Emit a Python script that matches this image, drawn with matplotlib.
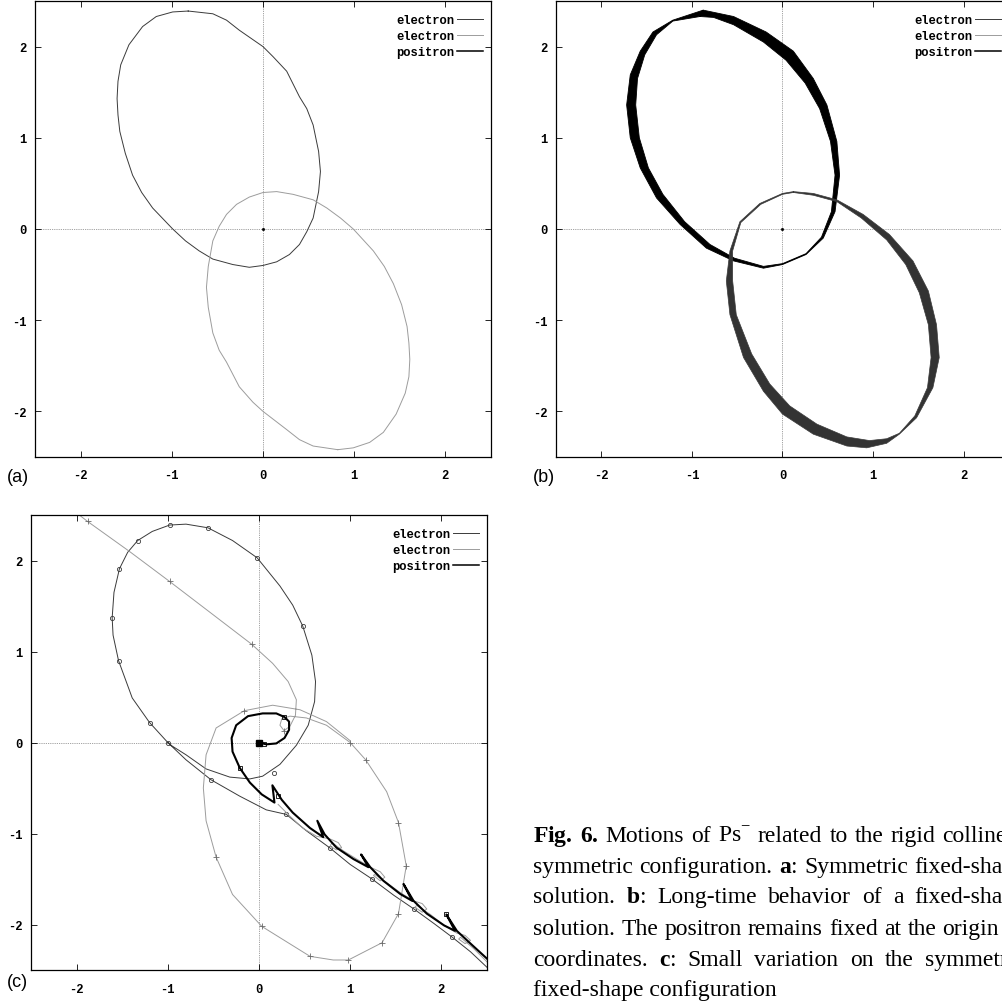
import numpy as np
import matplotlib.pyplot as plt
from matplotlib.lines import Line2D

plt.rcParams['axes.unicode_minus'] = False
plt.rcParams['mathtext.fontset'] = 'custom'
plt.rcParams['mathtext.rm'] = 'Liberation Serif'
plt.rcParams['mathtext.bf'] = 'Liberation Serif:bold'

ticks = [-2, -1, 0, 1, 2]
legend_labels = ['electron', 'electron', 'positron']
panel_labels = ['(a)', '(b)', '(c)']
caption_lines = [
    r'$\mathbf{Fig.\,6.}$ Motions of Ps$^{-}$ related to the rigid collinear',
    r'symmetric configuration. $\mathbf{a}$: Symmetric fixed-shape',
    r'solution. $\mathbf{b}$: Long-time behavior of a fixed-shape',
    r'solution. The positron remains fixed at the origin of',
    r'coordinates. $\mathbf{c}$: Small variation on the symmetric',
    r'fixed-shape configuration',
]

# (a) symmetric fixed-shape solution
e1_a_x = [-0.82, -0.99, -1.17, -1.32, -1.47, -1.56, -1.59, -1.60, -1.59, -1.57, -1.51, -1.43,
          -1.33, -1.21, -0.99, -0.85, -0.70, -0.55, -0.33, -0.15, 0.00, 0.15, 0.29, 0.40, 0.48,
          0.55, 0.61, 0.63, 0.61, 0.55, 0.48, 0.40, 0.26, 0.11, 0.00, -0.26, -0.40, -0.55, -0.82]
e1_a_y = [2.39, 2.38, 2.33, 2.22, 2.02, 1.80, 1.62, 1.43, 1.25, 1.07, 0.83, 0.59,
          0.40, 0.23, 0.00, -0.13, -0.24, -0.33, -0.39, -0.42, -0.40, -0.36, -0.28, -0.17, -0.03,
          0.12, 0.41, 0.63, 0.85, 1.14, 1.32, 1.45, 1.73, 1.89, 2.00, 2.18, 2.29, 2.36, 2.39]
e2_a_x = [0.82, 0.99, 1.17, 1.32, 1.46, 1.56, 1.60, 1.61, 1.60, 1.58, 1.52, 1.43,
          1.33, 1.21, 0.99, 0.85, 0.70, 0.55, 0.33, 0.15, 0.00, -0.15, -0.29, -0.40, -0.48,
          -0.55, -0.60, -0.62, -0.60, -0.55, -0.48, -0.40, -0.26, -0.11, 0.00, 0.26, 0.40, 0.55, 0.82]
e2_a_y = [-2.42, -2.40, -2.34, -2.23, -2.03, -1.80, -1.62, -1.43, -1.25, -1.07, -0.83, -0.60,
          -0.41, -0.24, 0.00, 0.12, 0.23, 0.32, 0.38, 0.41, 0.40, 0.35, 0.27, 0.16, 0.03,
          -0.13, -0.41, -0.64, -0.86, -1.14, -1.33, -1.46, -1.73, -1.90, -2.00, -2.20, -2.31, -2.38, -2.42]
pos_x = [0.0]
pos_y = [0.0]

# (b) long-time behaviour: bands swept by the two electrons
e1_b_out_x = [-0.875, -1.21, -1.43, -1.57, -1.68, -1.72, -1.68, -1.57, -1.39, -1.13, -0.84, -0.54,
              -0.21, 0.00, 0.26, 0.45, 0.58, 0.63, 0.60, 0.49, 0.34, 0.12, -0.18, -0.54, -0.875]
e1_b_out_y = [2.40, 2.29, 2.16, 1.95, 1.69, 1.36, 1.00, 0.67, 0.34, 0.05, -0.21, -0.35,
              -0.43, -0.39, -0.28, -0.10, 0.19, 0.59, 0.96, 1.36, 1.65, 1.95, 2.16, 2.33, 2.40]
e1_b_in_x = [-0.91, -1.21, -1.39, -1.52, -1.60, -1.62, -1.58, -1.48, -1.32, -1.08, -0.80, -0.53,
             -0.21, 0.00, 0.26, 0.43, 0.54, 0.58, 0.53, 0.41, 0.25, 0.04, -0.21, -0.54, -0.76, -0.91]
e1_b_in_y = [2.33, 2.28, 2.13, 1.91, 1.65, 1.36, 1.00, 0.67, 0.38, 0.08, -0.17, -0.32,
             -0.41, -0.38, -0.27, -0.09, 0.19, 0.59, 0.96, 1.32, 1.60, 1.85, 2.05, 2.24, 2.32, 2.33]
e2_b_out_x = [0.12, 0.00, -0.25, -0.47, -0.58, -0.62, -0.58, -0.43, -0.21, 0.00, 0.34, 0.71, 0.93,
              1.15, 1.29, 1.48, 1.66, 1.73, 1.70, 1.61, 1.44, 1.18, 0.89, 0.60, 0.34, 0.12]
e2_b_out_y = [0.41, 0.39, 0.28, 0.08, -0.24, -0.57, -0.94, -1.41, -1.78, -2.03, -2.25, -2.38, -2.40,
              -2.35, -2.25, -2.07, -1.74, -1.41, -1.05, -0.68, -0.35, -0.06, 0.16, 0.32, 0.39, 0.41]
e2_b_in_x = [0.12, 0.00, -0.24, -0.46, -0.55, -0.55, -0.51, -0.34, -0.14, 0.08, 0.38, 0.71, 0.96,
             1.15, 1.29, 1.46, 1.60, 1.64, 1.61, 1.51, 1.36, 1.15, 0.87, 0.60, 0.34, 0.12]
e2_b_in_y = [0.40, 0.38, 0.27, 0.07, -0.24, -0.57, -0.94, -1.37, -1.70, -1.94, -2.14, -2.28, -2.32,
             -2.30, -2.24, -2.05, -1.74, -1.41, -1.05, -0.70, -0.39, -0.12, 0.12, 0.30, 0.37, 0.40]

# (c) small variation on the symmetric configuration
e1_c_x = [2.50, 2.32, 2.12, 1.92, 1.70, 1.48, 1.24, 1.00, 0.78, 0.52, 0.30, 0.08, -0.21, -0.525,
          -0.80, -1.00, -1.20, -1.39, -1.54, -1.60, -1.61, -1.59, -1.53, -1.44, -1.33, -1.17,
          -0.98, -0.80, -0.56, -0.29, -0.02, 0.23, 0.37, 0.48, 0.58, 0.62, 0.61, 0.54, 0.41,
          0.23, 0.04, -0.10, -0.32, -0.58, -0.80, -0.95, -1.00]
e1_c_y = [-2.47, -2.30, -2.14, -1.99, -1.83, -1.68, -1.50, -1.34, -1.16, -0.97, -0.79, -0.74,
          -0.59, -0.41, -0.19, 0.00, 0.22, 0.49, 0.90, 1.18, 1.37, 1.65, 1.91, 2.09, 2.22, 2.32,
          2.39, 2.40, 2.36, 2.22, 2.03, 1.72, 1.51, 1.28, 0.96, 0.67, 0.45, 0.19, -0.03,
          -0.24, -0.37, -0.40, -0.38, -0.29, -0.135, -0.04, 0.00]
e1_c_mark_x = [-0.98, -0.56, -0.02, 0.48, -1.33, -1.53, -1.61, -1.54, -1.20, -1.00, -0.525,
               0.165, 0.30, 0.78, 1.24, 1.70, 2.12]
e1_c_mark_y = [2.39, 2.36, 2.03, 1.28, 2.22, 1.91, 1.37, 0.90, 0.22, 0.00, -0.41,
               -0.34, -0.79, -1.16, -1.50, -1.83, -2.14]

e2_c_x = [-1.97, -1.88, -1.42, -0.98, -0.51, -0.08, 0.15, 0.32, 0.41, 0.40, 0.34, 0.275, 0.23,
          0.25, 0.34, 0.52, 0.74, 1.00, 1.17, 1.40, 1.53, 1.615, 1.53, 1.35, 0.98, 0.815, 0.56,
          0.03, -0.29, -0.47, -0.58, -0.61, -0.58, -0.47, -0.16, 0.15, 0.45, 0.74, 1.00,
          np.nan,
          0.21, 0.34, 0.48, 0.63, 0.78, 0.87, 0.906, 0.85, 0.78, 0.80, 0.925, 1.07, 1.22, 1.33,
          1.38, 1.33, 1.255, 1.27, 1.40, 1.55, 1.695, 1.79, 1.84, 1.79, 1.71, 1.73, 1.88, 2.03,
          2.17, 2.26, 2.32, 2.26, 2.19, 2.21, 2.36, 2.50]
e2_c_y = [2.50, 2.43, 2.10, 1.77, 1.41, 1.08, 0.87, 0.67, 0.47, 0.30, 0.18, 0.13, 0.19,
          0.26, 0.29, 0.27, 0.19, 0.00, -0.19, -0.54, -0.88, -1.355, -1.88, -2.20, -2.39, -2.39, -2.35,
          -2.02, -1.67, -1.26, -0.86, -0.50, -0.135, 0.16, 0.35, 0.41, 0.36, 0.23, 0.02,
          np.nan,
          -0.68, -0.81, -0.94, -1.03, -1.06, -1.10, -1.155, -1.18, -1.14, -1.10, -1.19, -1.28, -1.37, -1.42,
          -1.48, -1.52, -1.46, -1.45, -1.54, -1.65, -1.74, -1.77, -1.83, -1.865, -1.81, -1.79, -1.89, -2.01,
          -2.095, -2.12, -2.175, -2.21, -2.16, -2.14, -2.27, -2.41]
e2_c_mark_x = [-1.88, -0.98, -0.08, 0.275, -0.16, 1.00, 1.17, 1.53, 1.615, 1.53, 1.35, 0.98,
               0.56, 0.03, -0.47]
e2_c_mark_y = [2.43, 1.77, 1.08, 0.13, 0.35, 0.00, -0.19, -0.88, -1.355, -1.88, -2.20, -2.39,
               -2.35, -2.02, -1.26]

pos_c_x = [0.00, 0.08, 0.19, 0.28, 0.33, 0.33, 0.28, 0.19, 0.04, -0.12, -0.25, -0.30, -0.29,
           -0.21, -0.10, 0.03, 0.17, 0.147, 0.25, 0.37, 0.56, 0.705, 0.64, 0.72, 0.85, 1.035,
           1.20, 1.12, 1.22, 1.365, 1.55, 1.68, 1.585, 1.695, 1.84, 2.03, 2.15, 2.055, 2.17,
           2.32, 2.50]
pos_c_y = [0.00, -0.02, -0.01, 0.05, 0.14, 0.23, 0.28, 0.32, 0.32, 0.29, 0.19, 0.05, -0.10,
           -0.28, -0.44, -0.57, -0.66, -0.47, -0.63, -0.77, -0.94, -1.04, -0.86, -1.01, -1.155, -1.28,
           -1.37, -1.23, -1.37, -1.52, -1.665, -1.74, -1.555, -1.74, -1.88, -2.01, -2.07, -1.89, -2.07,
           -2.21, -2.375]
pos_c_mark_x = [0.05, 0.27, -0.21, 0.21, 2.055]
pos_c_mark_y = [-0.02, 0.28, -0.28, -0.59, -1.89]

c_e1 = '#3a3a3a'
c_e2 = '#9c9c9c'
c_pos = 'black'

fig = plt.figure(figsize=(10.03, 10.03), dpi=100)
ax_a = fig.add_axes([0.0349, 0.5434, 0.4546, 0.4546])
ax_b = fig.add_axes([0.5543, 0.5434, 0.4517, 0.4546])
ax_c = fig.add_axes([0.0309, 0.0319, 0.4546, 0.4536])


def setup(ax):
    ax.set_xlim(-2.5, 2.5)
    ax.set_ylim(-2.5, 2.5)
    ax.set_xticks(ticks)
    ax.set_yticks(ticks)
    ax.tick_params(direction='in', top=True, right=True, length=4, width=0.6,
                   labelsize=8.7, colors='black')
    ax.tick_params(axis='x', pad=9)
    ax.tick_params(axis='y', pad=6)
    for lab in ax.get_xticklabels() + ax.get_yticklabels():
        lab.set_fontfamily('Liberation Mono')
        lab.set_fontweight('bold')
    ax.axhline(0, color='0.5', lw=0.6, ls=(0, (1, 1.2)), zorder=0)
    ax.axvline(0, color='0.5', lw=0.6, ls=(0, (1, 1.2)), zorder=0)
    for s in ax.spines.values():
        s.set_linewidth(0.9)
    handles = [Line2D([], [], color=c_e1, lw=0.7),
               Line2D([], [], color=c_e2, lw=0.7),
               Line2D([], [], color=c_pos, lw=1.1)]
    ax.legend(handles, legend_labels, loc='upper right', bbox_to_anchor=(0.982, 0.972),
              markerfirst=False, frameon=False, borderpad=0, borderaxespad=0,
              handlelength=2.1, handletextpad=0.25, labelspacing=0.35,
              prop={'family': 'Liberation Mono', 'weight': 'bold', 'size': 8.7})


# panel a
ax_a.plot(e1_a_x, e1_a_y, color=c_e1, lw=0.7)
ax_a.plot(e2_a_x, e2_a_y, color=c_e2, lw=0.7)
ax_a.plot(pos_x, pos_y, 's', color=c_pos, ms=1)
setup(ax_a)

# panel b
ax_b.fill(e1_b_out_x + e1_b_in_x[::-1], e1_b_out_y + e1_b_in_y[::-1],
          facecolor='black', edgecolor='black', lw=0.6)
ax_b.fill(e2_b_out_x + e2_b_in_x[::-1], e2_b_out_y + e2_b_in_y[::-1],
          facecolor='#333333', edgecolor='#3a3a3a', lw=0.5)
ax_b.plot(pos_x, pos_y, 's', color=c_pos, ms=1)
setup(ax_b)

# panel c
ax_c.plot(e1_c_x, e1_c_y, color=c_e1, lw=0.7)
ax_c.plot(e1_c_mark_x, e1_c_mark_y, 'o', ms=3, mfc='none', mec=c_e1, mew=0.6)
ax_c.plot(e2_c_x, e2_c_y, color=c_e2, lw=0.7)
ax_c.plot(e2_c_mark_x, e2_c_mark_y, '+', ms=4, color='#6a6a6a', mew=0.6)
ax_c.plot(pos_c_x, pos_c_y, color=c_pos, lw=1.5)
ax_c.plot(pos_c_mark_x, pos_c_mark_y, 's', ms=3.5, mfc='none', mec=c_pos, mew=0.6)
ax_c.plot(pos_x, pos_y, 's', ms=5, color=c_pos)
setup(ax_c)

label_pos = [(0.007, 0.5244), (0.531, 0.5244), (0.007, 0.0209)]
for (lx, ly), lab in zip(label_pos, panel_labels):
    fig.text(lx, ly, lab, fontsize=13, family='Liberation Sans', va='center', ha='left')

# caption, justified to a column that runs past the right edge of the page
cap_x0, cap_x1 = 533, 1025
cap_base = [842, 873, 903, 935, 966, 996]
renderer = fig.canvas.get_renderer()
W = fig.bbox.width
H = fig.bbox.height
for i, (yb, line) in enumerate(zip(cap_base, caption_lines)):
    y = 1 - yb / H
    words = line.split(' ')
    kw = dict(fontsize=17, family='Liberation Serif', fontweight='normal', va='baseline', ha='left')
    if i == len(caption_lines) - 1:
        fig.text(cap_x0 / W, y, line, **kw)
        continue
    widths = []
    for w in words:
        t = fig.text(0, 0, w, **kw)
        widths.append(t.get_window_extent(renderer).width)
        t.remove()
    gap = (cap_x1 - cap_x0 - sum(widths)) / (len(words) - 1)
    x = cap_x0
    for w, wd in zip(words, widths):
        fig.text(x / W, y, w, **kw)
        x += wd + gap

fig.savefig('out.png', dpi=100)
